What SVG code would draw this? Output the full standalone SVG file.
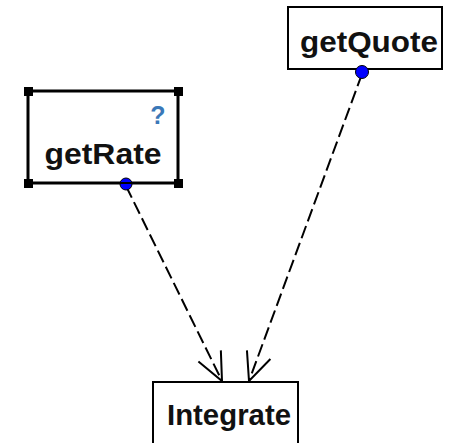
<svg xmlns="http://www.w3.org/2000/svg" width="457" height="443" viewBox="0 0 457 443">
<defs>
<style>
.box{fill:#fff;stroke:#000;stroke-width:2}
.sel{fill:#fff;stroke:#000;stroke-width:3}
.lbl{font-family:"Liberation Sans",Arial,sans-serif;font-weight:bold;font-size:30px;fill:#111;text-anchor:middle}
.q{font-family:"Liberation Sans",Arial,sans-serif;font-weight:bold;font-size:25px;fill:#3a78b8;text-anchor:middle}
.port{fill:#0000ff;stroke:#000;stroke-width:1}
.h{fill:#000}
.conn{fill:none;stroke:#000;stroke-width:2;stroke-dasharray:13 5}
</style>
<marker id="arr" markerUnits="userSpaceOnUse" markerWidth="40" markerHeight="40" viewBox="-35 -20 40 40" refX="0" refY="0" orient="auto" overflow="visible">
<path d="M-28,-12.5 L0,0 L-28,12.5" fill="none" stroke="#000" stroke-width="2"/>
</marker>
</defs>
<rect width="457" height="443" fill="#fff"/>
<g id="connectors">
<line class="conn" x1="126" y1="186" x2="222" y2="381" marker-end="url(#arr)"/>
<line class="conn" x1="362" y1="74" x2="249" y2="381" marker-end="url(#arr)"/>
</g>
<g id="getQuote">
<rect class="box" x="288" y="7" width="154" height="62"/>
<text class="lbl" x="369" y="52" textLength="138" lengthAdjust="spacingAndGlyphs">getQuote</text>
<circle class="port" cx="362" cy="72" r="6.5"/>
</g>
<g id="getRate">
<rect class="sel" x="28" y="91" width="150" height="92"/>
<rect class="h" x="24" y="87" width="9" height="9"/>
<rect class="h" x="174" y="87" width="9" height="9"/>
<rect class="h" x="24" y="179" width="9" height="9"/>
<rect class="h" x="174" y="179" width="9" height="9"/>
<text class="q" x="158" y="124">?</text>
<text class="lbl" x="103" y="164" textLength="117" lengthAdjust="spacingAndGlyphs">getRate</text>
<circle class="port" cx="126" cy="184" r="6"/>
<line x1="119" y1="183" x2="133" y2="183" stroke="#000" stroke-width="2"/>
</g>
<g id="Integrate">
<rect class="box" x="153" y="382" width="145" height="70"/>
<text class="lbl" x="229" y="425" textLength="124" lengthAdjust="spacingAndGlyphs">Integrate</text>
</g>
</svg>
